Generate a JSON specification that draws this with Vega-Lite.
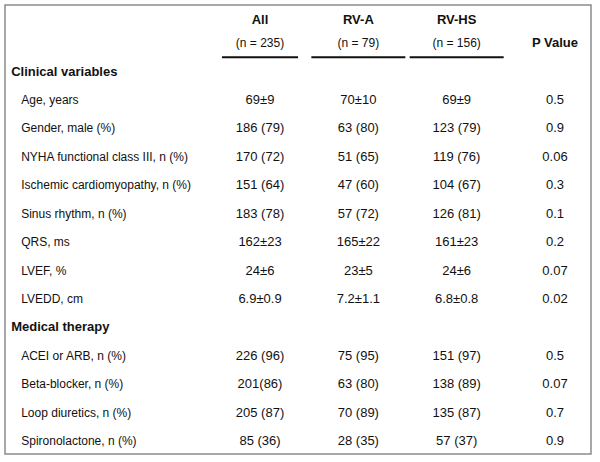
{
  "$schema": "https://vega.github.io/schema/vega-lite/v6.json",
  "width": 600,
  "height": 462,
  "autosize": {"type": "fit", "contains": "padding"},
  "padding": {"left": 5, "top": 5, "right": 9, "bottom": 8},
  "background": "white",
  "config": {
    "view": {"stroke": "#8c8c8c", "strokeWidth": 1.5},
    "text": {"font": "Liberation Sans", "color": "#111111"}
  },
  "datasets": {
    "rows": [
      {"row": "Clinical variables", "kind": "section"},
      {"row": "Age, years", "kind": "item", "All": "69±9", "RV-A": "70±10", "RV-HS": "69±9", "P Value": "0.5"},
      {"row": "Gender, male (%)", "kind": "item", "All": "186 (79)", "RV-A": "63 (80)", "RV-HS": "123 (79)", "P Value": "0.9"},
      {"row": "NYHA functional class III, n (%)", "kind": "item", "All": "170 (72)", "RV-A": "51 (65)", "RV-HS": "119 (76)", "P Value": "0.06"},
      {"row": "Ischemic cardiomyopathy, n (%)", "kind": "item", "All": "151 (64)", "RV-A": "47 (60)", "RV-HS": "104 (67)", "P Value": "0.3"},
      {"row": "Sinus rhythm, n (%)", "kind": "item", "All": "183 (78)", "RV-A": "57 (72)", "RV-HS": "126 (81)", "P Value": "0.1"},
      {"row": "QRS, ms", "kind": "item", "All": "162±23", "RV-A": "165±22", "RV-HS": "161±23", "P Value": "0.2"},
      {"row": "LVEF, %", "kind": "item", "All": "24±6", "RV-A": "23±5", "RV-HS": "24±6", "P Value": "0.07"},
      {"row": "LVEDD, cm", "kind": "item", "All": "6.9±0.9", "RV-A": "7.2±1.1", "RV-HS": "6.8±0.8", "P Value": "0.02"},
      {"row": "Medical therapy", "kind": "section"},
      {"row": "ACEI or ARB, n (%)", "kind": "item", "All": "226 (96)", "RV-A": "75 (95)", "RV-HS": "151 (97)", "P Value": "0.5"},
      {"row": "Beta-blocker, n (%)", "kind": "item", "All": "201(86)", "RV-A": "63 (80)", "RV-HS": "138 (89)", "P Value": "0.07"},
      {"row": "Loop diuretics, n (%)", "kind": "item", "All": "205 (87)", "RV-A": "70 (89)", "RV-HS": "135 (87)", "P Value": "0.7"},
      {"row": "Spironolactone, n (%)", "kind": "item", "All": "85 (36)", "RV-A": "28 (35)", "RV-HS": "57 (37)", "P Value": "0.9"}
    ],
    "groups": [
      {"col": "All", "name": "All", "n": "(n = 235)"},
      {"col": "RV-A", "name": "RV-A", "n": "(n = 79)"},
      {"col": "RV-HS", "name": "RV-HS", "n": "(n = 156)"},
      {"col": "P Value", "name": "P Value"}
    ]
  },
  "layer": [
    {
      "data": {"name": "rows"},
      "transform": [{"filter": "datum.kind === 'section'"}],
      "mark": {"type": "text", "align": "left", "baseline": "middle", "fontWeight": "bold", "fontSize": 13, "dx": -3},
      "encoding": {
        "x": {"datum": "label", "type": "nominal", "axis": null, "scale": {"type": "point", "domain": ["label", "s1", "s2", "s3", "s4", "All", "s5", "RV-A", "s6", "RV-HS", "s7", "P Value"], "range": [9.2, 550], "padding": 0}},
        "y": {"field": "row", "type": "nominal", "axis": null, "sort": null, "scale": {"type": "point", "domain": ["header", "Clinical variables", "Age, years", "Gender, male (%)", "NYHA functional class III, n (%)", "Ischemic cardiomyopathy, n (%)", "Sinus rhythm, n (%)", "QRS, ms", "LVEF, %", "LVEDD, cm", "Medical therapy", "ACEI or ARB, n (%)", "Beta-blocker, n (%)", "Loop diuretics, n (%)", "Spironolactone, n (%)"], "range": [38.2, 436], "padding": 0}},
        "text": {"field": "row"}
      }
    },
    {
      "data": {"name": "rows"},
      "transform": [{"filter": "datum.kind === 'item'"}],
      "mark": {"type": "text", "align": "left", "baseline": "middle", "fontSize": 12, "dx": 7},
      "encoding": {
        "x": {"datum": "label", "type": "nominal", "axis": null},
        "y": {"field": "row", "type": "nominal", "axis": null},
        "text": {"field": "row"}
      }
    },
    {
      "data": {"name": "rows"},
      "transform": [
        {"fold": ["All", "RV-A", "RV-HS", "P Value"], "as": ["col", "value"]},
        {"filter": "datum.value != null"}
      ],
      "mark": {"type": "text", "align": "center", "baseline": "middle", "fontSize": 13},
      "encoding": {
        "x": {"field": "col", "type": "nominal", "axis": null},
        "y": {"field": "row", "type": "nominal", "axis": null},
        "text": {"field": "value"}
      }
    },
    {
      "data": {"name": "groups"},
      "transform": [{"filter": "datum.n != null"}],
      "mark": {"type": "text", "align": "center", "baseline": "middle", "fontSize": 13, "fontWeight": "bold", "yOffset": -23},
      "encoding": {
        "x": {"field": "col", "type": "nominal", "axis": null},
        "y": {"datum": "header", "type": "nominal", "axis": null},
        "text": {"field": "name"}
      }
    },
    {
      "data": {"name": "groups"},
      "transform": [{"filter": "datum.n == null"}],
      "mark": {"type": "text", "align": "center", "baseline": "middle", "fontSize": 13, "fontWeight": "bold"},
      "encoding": {
        "x": {"field": "col", "type": "nominal", "axis": null},
        "y": {"datum": "header", "type": "nominal", "axis": null},
        "text": {"field": "name"}
      }
    },
    {
      "data": {"name": "groups"},
      "transform": [{"filter": "datum.n != null"}],
      "mark": {"type": "text", "align": "center", "baseline": "middle", "fontSize": 12},
      "encoding": {
        "x": {"field": "col", "type": "nominal", "axis": null},
        "y": {"datum": "header", "type": "nominal", "axis": null},
        "text": {"field": "n"}
      }
    },
    {
      "data": {"name": "groups"},
      "transform": [{"filter": "datum.n != null"}],
      "mark": {"type": "tick", "orient": "horizontal", "thickness": 2, "color": "#111111", "opacity": 1, "yOffset": 14},
      "encoding": {
        "x": {"field": "col", "type": "nominal", "axis": null},
        "y": {"datum": "header", "type": "nominal", "axis": null},
        "size": {"condition": {"test": "datum.col === 'All'", "value": 76}, "value": 94}
      }
    }
  ]
}
